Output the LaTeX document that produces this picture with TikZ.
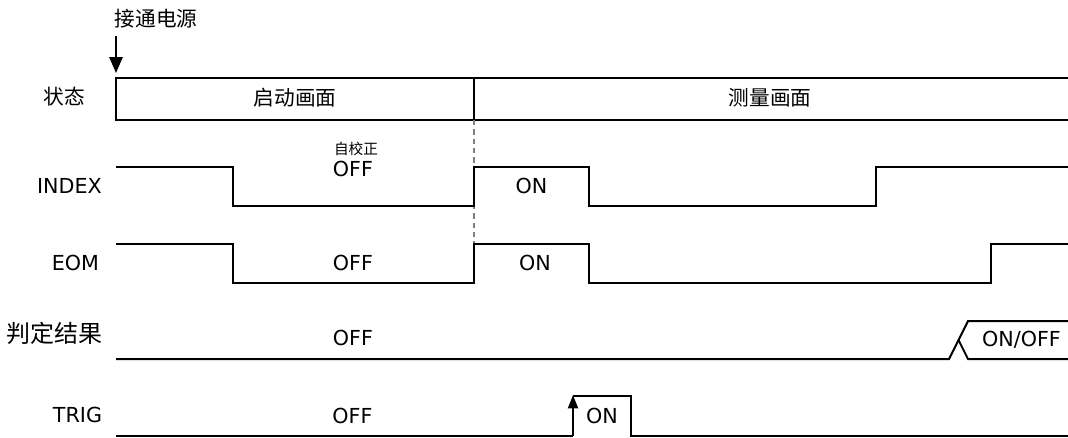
\documentclass[tikz,border=0pt]{standalone}
\usepackage{fontspec}
\setmainfont{DejaVu Sans}
\newfontfamily\cjk{Noto Sans CJK SC}
\usetikzlibrary{arrows.meta}
\tikzset{
  wave/.style={line width=1.5pt, line join=miter},
  lat/.style={font=\fontsize{15.5}{16}\selectfont, inner sep=0pt},
  zh/.style={font=\cjk\fontsize{15.5}{16}\selectfont, inner sep=0pt},
}
\begin{document}
\begin{tikzpicture}[x=0.75pt,y=-0.75pt]
\useasboundingbox (0,0) rectangle (1068,437);
% power-on
\node[zh] (pwr) at (156,19) {接通电源};
\coordinate (pwrA) at (116,36);
\coordinate (pwrB) at (116,73);
\draw[line width=1.3pt,-{Triangle[length=12pt,width=10pt]}] (pwrA) -- (pwrB);
% state row
\node[zh] (stlab) at (64.5,97) {状态};
\draw[wave] (1068,78) -- (116,78) -- (116,120) -- (1068,120);
\draw[wave] (474,78) -- (474,120);
\node[zh] (s1) at (295,97.5) {启动画面};
\node[zh] (s2) at (770,97.5) {测量画面};
\draw[gray, line width=0.9pt, dash pattern=on 4pt off 3pt] (474,120) -- (474,244);
% INDEX
\node[lat, anchor=east] (idxlab) at (102,185.5) {INDEX};
\draw[wave] (116,167) -- (233,167) -- (233,206) -- (474,206) -- (474,167) -- (589,167) -- (589,206) -- (876,206) -- (876,167) -- (1068,167);
\node[zh, font=\cjk\fontsize{11}{12}\selectfont] (selfcal) at (356,148.5) {自校正};
\node[lat] (idxoff) at (353,168.5) {OFF};
\node[lat] (idxon) at (531.5,185.5) {ON};
% EOM
\node[lat] (eomlab) at (75.5,262.5) {EOM};
\draw[wave] (116,244) -- (233,244) -- (233,283) -- (474,283) -- (474,244) -- (589,244) -- (589,283) -- (991,283) -- (991,244) -- (1068,244);
\node[lat] (eomoff) at (353,263) {OFF};
\node[lat] (eomon) at (535,262.5) {ON};
% judgement
\node[zh, font=\cjk\fontsize{18}{19}\selectfont] (judlab) at (55,333.5) {判定结果};
\draw[wave] (116,359) -- (949,359) -- (968,321) -- (1068,321);
\draw[wave] (1068,359) -- (968,359) -- (958.5,340);
\node[lat] (judoff) at (353,337.5) {OFF};
\node[lat] (judon) at (1021.5,339.5) {ON/OFF};
% TRIG
\node[lat] (triglab) at (77.5,415) {TRIG};
\draw[wave] (116,436) -- (573,436);
\draw[wave] (573,396) -- (631,396) -- (631,436) -- (1068,436);
\coordinate (trA) at (573,436);
\coordinate (trB) at (573,395);
\draw[wave,-{Triangle[length=10pt,width=7.5pt]}] (trA) -- (trB);
\node[lat] (trigoff) at (352.5,415.5) {OFF};
\node[lat] (trigon) at (602,415.5) {ON};
\end{tikzpicture}
\end{document}
